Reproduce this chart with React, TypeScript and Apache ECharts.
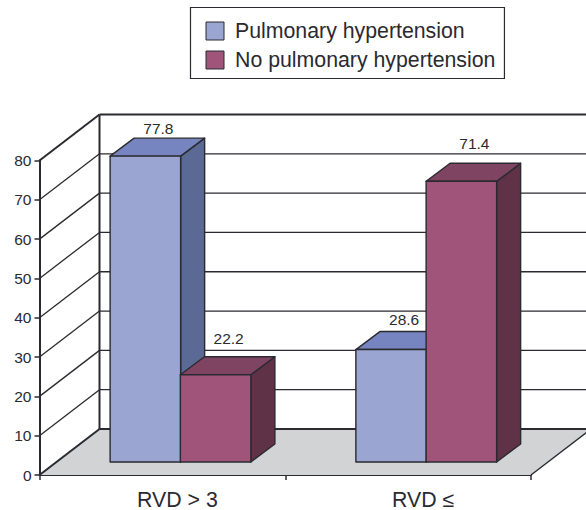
import React, { useEffect, useRef } from "react";
import * as echarts from "echarts";

const categories = ["RVD > 3", "RVD ≤"];
const pulmonaryValues = [77.8, 28.6];
const noPulmonaryValues = [22.2, 71.4];
const levelTicks = [0, 10, 20, 30, 40, 50, 60, 70, 80];

const FONT = '"Liberation Sans", Arial, sans-serif';
const INK = "#2a2a30";
const WALL_DX = 60;
const WALL_DY = 46;
const BAR_DX = 24;
const BAR_DY = 18;
const NEAR_DY = 13;
const BAR_W = 70.5;

const bluePalette = { front: "#9aa5d2", top: "#7685bf", side: "#5b6a94" };
const plumPalette = { front: "#a0547a", top: "#804463", side: "#603247" };

// Vertical gap between each bar's rear top edge and the middle of its value text
const pulmonaryLift = [10, 12];
const noPulmonaryLift = [18, 20];

const frameItem = (params: any, api: any) => {
  const level = api.value(1);
  const sys = params.coordSys;
  const [x0, y] = [sys.x, api.coord([0, level])[1]];
  const right = sys.x + sys.width;
  const children: any[] = [];
  const line = (x1: number, y1: number, x2: number, y2: number, w: number) => ({
    type: "line",
    silent: true,
    shape: { x1, y1, x2, y2 },
    style: { stroke: INK, lineWidth: w },
  });
  if (level === 0) {
    children.push({
      type: "polygon",
      silent: true,
      shape: {
        points: [
          [x0, y],
          [right, y],
          [right + WALL_DX, y - WALL_DY],
          [x0 + WALL_DX, y - WALL_DY],
        ],
      },
      style: { fill: "#d1d3d4" },
    });
    children.push(line(right, y, right + WALL_DX, y - WALL_DY, 1.4));
  }
  const heavy = level === 0 || level === 80;
  children.push(line(x0, y, x0 + WALL_DX, y - WALL_DY, heavy ? 2 : 1.3));
  children.push(line(x0 + WALL_DX, y - WALL_DY, right + WALL_DX, y - WALL_DY, heavy ? 2 : 1.3));
  if (level === 80) {
    const floorY = api.coord([0, 0])[1] - WALL_DY;
    children.push(line(x0 + WALL_DX, y - WALL_DY, x0 + WALL_DX, floorY, 2));
  }
  return { type: "group", children };
};

const barItem = (palette: typeof bluePalette, leftInset: number, lifts: number[]) => (params: any, api: any) => {
  const cat = api.value(0);
  const value = api.value(1);
  const center = api.coord([cat, 0])[0];
  const x = center + leftInset;
  const y = api.coord([cat, value])[1] - NEAR_DY;
  const base = api.coord([cat, 0])[1] - NEAR_DY;
  const xr = x + BAR_W;
  const edge = { stroke: INK, lineWidth: 1.4, lineJoin: "round" };
  return {
    type: "group",
    children: [
      {
        type: "polygon",
        silent: true,
        shape: { points: [[xr, y], [xr + BAR_DX, y - BAR_DY], [xr + BAR_DX, base - BAR_DY], [xr, base]] },
        style: { fill: palette.side, ...edge },
      },
      {
        type: "polygon",
        silent: true,
        shape: { points: [[x, y], [x + BAR_DX, y - BAR_DY], [xr + BAR_DX, y - BAR_DY], [xr, y]] },
        style: { fill: palette.top, ...edge },
      },
      {
        type: "polygon",
        silent: true,
        shape: { points: [[x, y], [xr, y], [xr, base], [x, base]] },
        style: { fill: palette.front, ...edge },
      },
      {
        type: "text",
        silent: true,
        style: {
          text: value.toFixed(1),
          x: (x + xr + BAR_DX) / 2 + 1,
          y: y - BAR_DY - lifts[params.dataIndex],
          align: "center",
          verticalAlign: "middle",
          fill: INK,
          font: `15.5px ${FONT}`,
        },
      },
    ],
  };
};

export default function App() {
  const ref = useRef<HTMLDivElement>(null);

  useEffect(() => {
    const chart = echarts.init(ref.current!, undefined, { renderer: "svg" });
    chart.setOption({
      animation: false,
      backgroundColor: "#ffffff",
      legend: {
        orient: "vertical",
        left: 190.5,
        top: 7.5,
        padding: [13, 9, 8, 15],
        borderColor: INK,
        borderWidth: 1.2,
        icon: "rect",
        itemWidth: 18,
        itemHeight: 18,
        itemGap: 8,
        selectedMode: false,
        data: ["Pulmonary hypertension", "No pulmonary hypertension"],
        textStyle: { fontFamily: FONT, fontSize: 21.3, color: INK, padding: [0, 0, 0, 6] },
        itemStyle: { borderColor: INK, borderWidth: 1 },
      },
      grid: { left: 39.5, top: 160.5, width: 491.5, height: 315.5, containLabel: false },
      xAxis: {
        type: "category",
        data: categories,
        boundaryGap: true,
        axisLine: { lineStyle: { color: INK, width: 2 } },
        axisTick: { show: true, length: 5, lineStyle: { color: INK, width: 1.5 } },
        axisLabel: {
          margin: 14,
          fontFamily: FONT,
          fontSize: 21.3,
          color: INK,
          padding: [0, 0, 0, 30],
        },
      },
      yAxis: {
        type: "value",
        min: 0,
        max: 80,
        interval: 10,
        splitLine: { show: false },
        axisLine: { show: true, lineStyle: { color: INK, width: 2 } },
        axisTick: { show: true, length: 5, lineStyle: { color: INK, width: 1.5 } },
        axisLabel: { margin: 8, fontFamily: FONT, fontSize: 15.5, color: INK },
      },
      series: [
        {
          type: "custom",
          name: "frame",
          clip: false,
          silent: true,
          encode: { x: 0, y: 1 },
          data: levelTicks.map((t) => [0, t]),
          renderItem: frameItem,
        },
        {
          type: "custom",
          name: "Pulmonary hypertension",
          clip: false,
          silent: true,
          itemStyle: { color: bluePalette.front },
          encode: { x: 0, y: 1 },
          data: pulmonaryValues.map((v, i) => [i, v]),
          renderItem: barItem(bluePalette, -52.25, pulmonaryLift),
        },
        {
          type: "custom",
          name: "No pulmonary hypertension",
          clip: false,
          silent: true,
          itemStyle: { color: plumPalette.front },
          encode: { x: 0, y: 1 },
          data: noPulmonaryValues.map((v, i) => [i, v]),
          renderItem: barItem(plumPalette, 18, noPulmonaryLift),
        },
      ],
    });
    return () => chart.dispose();
  }, []);

  return <div ref={ref} style={{ position: "fixed", left: 0, top: 0, width: 586, height: 510 }} />;
}
